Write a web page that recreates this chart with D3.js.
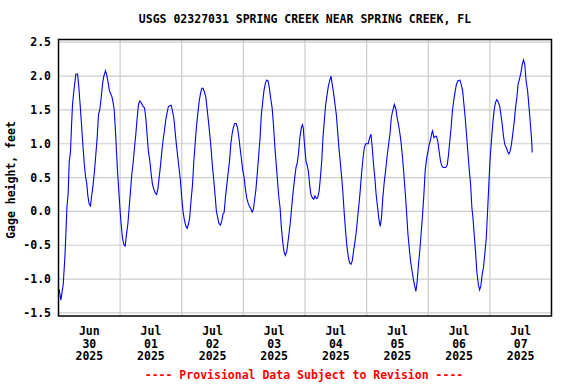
<!DOCTYPE html>
<html>
<head>
<meta charset="utf-8">
<script src="https://cdn.jsdelivr.net/npm/d3@7"></script>
<style>
  body { margin: 0; background: #fff; }
  svg text { font-family: "DejaVu Sans Mono", "Liberation Mono", monospace; font-weight: bold; font-size: 11.5px; }
</style>
</head>
<body>
<div id="chart"></div>
<script>
const width = 576;
const height = 384;

const chartTitle = "USGS 02327031 SPRING CREEK NEAR SPRING CREEK, FL";
const yLabel = "Gage height, feet";
const footer = "---- Provisional Data Subject to Revision ----";

// days shown on the x axis (labels sit at noon, gridlines at midnight)
const startDay = new Date(2025, 5, 30);
const endDay = new Date(2025, 6, 8);
const yTicks = [-1.5, -1.0, -0.5, 0.0, 0.5, 1.0, 1.5, 2.0, 2.5];

// [hours since Jun 30 00:00, gage height ft]
const gageReadings = [
  [0.27,-1.15],[0.92,-1.31],[1.83,-1.08],[2.48,-0.68],[2.87,-0.34],[3.26,0.05],[3.78,0.28],[4.16,0.72],
  [4.68,0.89],[5.07,1.26],[5.46,1.58],[5.98,1.78],[6.76,2.03],[7.41,2.03],[7.93,1.83],[8.45,1.56],
  [8.96,1.29],[9.48,0.99],[10.0,0.72],[10.52,0.52],[11.04,0.40],[11.43,0.23],[11.95,0.11],[12.47,0.08],
  [12.98,0.25],[13.5,0.40],[14.02,0.60],[14.54,0.84],[15.06,1.09],[15.58,1.43],[16.1,1.51],[16.62,1.68],
  [17.14,1.88],[17.66,2.0],[18.3,2.08],[18.82,2.01],[19.34,1.90],[19.86,1.78],[20.38,1.73],[20.77,1.70],
  [21.16,1.63],[21.68,1.51],[22.19,1.19],[22.58,0.89],[22.97,0.60],[23.49,0.30],[24.01,0.0],[24.4,-0.19],
  [24.92,-0.39],[25.44,-0.49],[25.96,-0.51],[26.48,-0.34],[27.0,-0.19],[27.51,0.05],[28.03,0.30],[28.55,0.55],
  [29.07,0.72],[29.59,0.94],[30.11,1.14],[30.63,1.38],[31.15,1.58],[31.67,1.63],
  [32.2,1.61],[32.8,1.56],[33.5,1.53],[34.0,1.38],[34.5,1.14],[35.0,0.89],[35.6,0.74],[36.1,0.55],
  [36.6,0.40],[37.1,0.33],[37.6,0.28],[38.2,0.25],[38.7,0.33],[39.2,0.50],[39.7,0.67],[40.2,0.87],
  [40.7,1.04],[41.3,1.21],[41.8,1.36],[42.3,1.46],[42.8,1.55],[43.3,1.56],[43.9,1.57],[44.4,1.48],
  [44.9,1.38],[45.4,1.19],[45.9,0.99],[46.5,0.79],[47.0,0.62],[47.5,0.45],[48.0,0.20],[48.5,0.0],
  [49.0,-0.12],[49.6,-0.22],[50.1,-0.25],[50.6,-0.19],[51.1,-0.09],[51.6,0.15],[52.2,0.40],[52.7,0.74],
  [53.2,0.99],[53.7,1.24],[54.2,1.43],[54.8,1.63],[55.3,1.74],[55.8,1.82],[56.3,1.82],[56.8,1.77],
  [57.4,1.68],[57.9,1.51],[58.4,1.33],[58.9,1.14],[59.4,0.94],[59.9,0.69],[60.5,0.45],[61.0,0.23],
  [61.5,0.0],[62.0,-0.09],[62.5,-0.18],[63.1,-0.20],[63.6,-0.14],[64.1,-0.03],
  [64.5,-0.02],[65.0,0.20],[65.5,0.37],[66.0,0.55],[66.6,0.74],[67.1,0.99],[67.6,1.14],[68.1,1.24],
  [68.6,1.30],[69.2,1.30],[69.7,1.24],[70.2,1.11],[70.7,0.94],[71.2,0.79],[71.7,0.62],[72.3,0.50],
  [72.8,0.33],[73.3,0.20],[73.8,0.13],[74.3,0.08],[74.9,0.04],[75.4,-0.01],[75.9,0.03],[76.4,0.18],
  [76.9,0.33],[77.5,0.60],[78.0,0.84],[78.5,1.09],[79.0,1.43],[79.5,1.61],[80.0,1.78],[80.6,1.90],
  [81.1,1.94],[81.6,1.93],[82.1,1.83],[82.6,1.68],[83.2,1.53],[83.7,1.29],[84.2,0.99],[84.7,0.74],
  [85.2,0.50],[85.7,0.25],[86.3,0.05],[86.8,-0.24],[87.3,-0.44],[87.8,-0.59],[88.3,-0.65],[88.9,-0.59],
  [89.4,-0.44],[89.9,-0.29],[90.4,-0.12],[90.9,0.10],[91.4,0.30],[92.0,0.50],[92.5,0.65],[93.0,0.72],
  [93.5,0.87],[94.0,1.09],[94.6,1.24],[95.0,1.28],[95.3,1.24],[95.8,0.99],[96.4,0.74],
  [96.8,0.69],[97.3,0.60],[97.8,0.40],[98.3,0.25],[98.9,0.20],[99.4,0.18],[99.9,0.23],[100.4,0.19],
  [100.9,0.20],[101.5,0.30],[102.0,0.50],[102.5,0.74],[103.0,1.09],[103.5,1.33],[104.0,1.56],[104.6,1.73],
  [105.1,1.85],[105.6,1.93],[106.1,2.0],[106.6,1.88],[107.2,1.73],[107.7,1.58],[108.2,1.43],[108.7,1.19],
  [109.2,0.94],[109.7,0.74],[110.3,0.50],[110.8,0.25],[111.3,-0.04],[111.8,-0.29],[112.3,-0.51],[112.9,-0.68],
  [113.4,-0.76],[113.9,-0.78],[114.4,-0.73],[114.9,-0.59],[115.5,-0.44],[116.0,-0.29],[116.5,-0.09],[117.0,0.10],
  [117.5,0.30],[118.0,0.55],[118.6,0.79],[119.1,0.94],[119.6,1.00],[120.1,1.00],[120.6,1.00],[121.2,1.09],
  [121.7,1.14],[122.2,0.94],[122.7,0.69],[123.2,0.50],[123.7,0.25],[124.3,0.05],[124.8,-0.12],[125.3,-0.22],
  [125.8,-0.09],[126.3,0.20],[126.9,0.45],[127.4,0.60],[127.9,0.79],[128.4,0.94],[128.9,1.09],
  [129.1,1.14],[129.6,1.38],[130.1,1.48],[130.8,1.58],[131.4,1.51],[131.9,1.38],[132.5,1.26],[133.0,1.14],
  [133.5,0.99],[134.0,0.79],[134.5,0.55],[135.1,0.25],[135.6,-0.04],[136.1,-0.34],[136.6,-0.54],[137.1,-0.73],
  [137.7,-0.88],[138.2,-1.0],[138.7,-1.10],[139.2,-1.18],[139.7,-1.03],[140.2,-0.78],[140.8,-0.54],[141.3,-0.29],
  [141.8,-0.04],[142.3,0.25],[142.8,0.60],[143.4,0.79],[143.9,0.89],[144.4,0.99],[144.9,1.06],[145.4,1.16],
  [145.7,1.19],[146.2,1.09],[146.7,1.11],[147.2,1.11],[147.7,1.04],[148.3,0.87],[148.8,0.74],[149.3,0.67],
  [149.8,0.65],[150.3,0.65],[150.8,0.65],[151.4,0.69],[151.9,0.84],[152.4,1.04],[152.9,1.24],[153.4,1.48],
  [153.9,1.63],[154.5,1.78],[155.0,1.88],[155.6,1.93],[156.3,1.94],[156.8,1.88],[157.4,1.78],[157.9,1.58],
  [158.4,1.38],[158.9,1.14],[159.4,0.89],[160.0,0.60],[160.5,0.40],[161.0,0.05],
  [161.4,-0.09],[161.9,-0.34],[162.4,-0.59],[162.9,-0.88],[163.5,-1.08],[164.0,-1.16],[164.5,-1.10],[165.0,-0.93],
  [165.5,-0.83],[166.0,-0.64],[166.6,-0.39],[167.1,0.0],[167.6,0.40],[168.1,0.79],[168.7,1.09],[169.2,1.33],
  [169.7,1.51],[170.2,1.61],[170.7,1.65],[171.2,1.62],[171.8,1.56],[172.3,1.43],[172.8,1.29],[173.3,1.11],
  [173.8,0.99],[174.4,0.94],[174.9,0.89],[175.4,0.85],[175.9,0.89],[176.4,0.99],[176.9,1.14],[177.5,1.33],
  [178.0,1.53],[178.5,1.68],[179.0,1.88],[179.5,1.95],[180.1,2.05],[180.6,2.17],[181.1,2.24],[181.6,2.17],
  [182.1,1.93],[182.7,1.78],[183.2,1.56],[183.7,1.33],[184.2,1.09],[184.5,0.87]
];

const plot = { left: 58.5, right: 551.5, top: 39.5, bottom: 316 };

const svg = d3.select("#chart")
    .append("svg")
    .attr("width", width)
    .attr("height", height)
    .attr("viewBox", `0 0 ${width} ${height}`);

const x = d3.scaleTime()
    .domain([startDay, endDay])
    .range([plot.left, plot.right]);

const y = d3.scaleLinear()
    .domain([-1.545, 2.54])
    .range([plot.bottom, plot.top]);

const fmt = d3.formatLocale({ decimal: ".", thousands: ",", grouping: [3], currency: ["$", ""], minus: "-" }).format(".1f");

const days = d3.timeDay.range(startDay, endDay);

// gridlines
svg.append("g")
    .selectAll("line.h")
    .data(yTicks)
    .enter().append("line")
    .attr("x1", plot.left).attr("x2", plot.right)
    .attr("y1", d => y(d)).attr("y2", d => y(d))
    .attr("stroke", "#cccccc").attr("stroke-width", 1.2);

svg.append("g")
    .selectAll("line.v")
    .data(days.slice(1))
    .enter().append("line")
    .attr("x1", d => x(d)).attr("x2", d => x(d))
    .attr("y1", plot.top).attr("y2", plot.bottom)
    .attr("stroke", "#cccccc").attr("stroke-width", 1.2);

// the gage line
const line = d3.line()
    .x(d => x(new Date(startDay.getTime() + d[0] * 3600e3)))
    .y(d => y(d[1]));

svg.append("path")
    .datum(gageReadings)
    .attr("d", line)
    .attr("fill", "none")
    .attr("stroke", "#0000ff")
    .attr("stroke-width", 1.1);

// frame
svg.append("rect")
    .attr("x", plot.left).attr("y", plot.top)
    .attr("width", plot.right - plot.left)
    .attr("height", plot.bottom - plot.top)
    .attr("fill", "none")
    .attr("stroke", "#000")
    .attr("stroke-width", 1.5);

// y tick labels
svg.append("g")
    .selectAll("text")
    .data(yTicks)
    .enter().append("text")
    .attr("x", 51)
    .attr("y", d => y(d))
    .attr("dy", "0.35em")
    .attr("text-anchor", "end")
    .text(d => fmt(d));

// x tick labels at noon of each day
const xLab = svg.append("g")
    .selectAll("text")
    .data(days)
    .enter().append("text")
    .attr("text-anchor", "middle")
    .attr("transform", d => `translate(${x(d3.timeHour.offset(d, 12))},0)`);

xLab.append("tspan").attr("x", 0).attr("y", 335).text(d3.timeFormat("%b"));
xLab.append("tspan").attr("x", 0).attr("y", 347.7).text(d3.timeFormat("%d"));
xLab.append("tspan").attr("x", 0).attr("y", 360.4).text(d3.timeFormat("%Y"));

// titles
svg.append("text")
    .attr("x", 305).attr("y", 23)
    .attr("text-anchor", "middle")
    .text(chartTitle);

svg.append("text")
    .attr("transform", "translate(15,180) rotate(-90)")
    .attr("text-anchor", "middle")
    .text(yLabel);

svg.append("text")
    .attr("x", 304).attr("y", 379)
    .attr("text-anchor", "middle")
    .attr("fill", "#ff0000")
    .text(footer);
</script>
</body>
</html>
